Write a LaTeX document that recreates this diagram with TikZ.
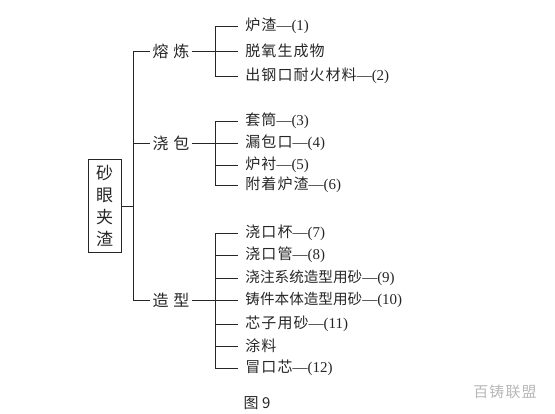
\documentclass[tikz,border=0pt]{standalone}
\usepackage{fontspec}
\setmainfont{Liberation Serif}
\newfontfamily\cjk{Noto Sans CJK SC}
\newfontfamily\cjkw[LetterSpace=7]{Noto Sans CJK SC}
\usetikzlibrary{positioning}

\tikzset{
  leaf/.style={anchor=west, inner xsep=7pt, inner ysep=1pt, font=\fontsize{15}{16}\selectfont},
  group/.style={inner xsep=2pt, inner ysep=1pt, font=\cjk\fontsize{16}{16}\selectfont},
}

\begin{document}
\begin{tikzpicture}[x=1pt, y=-1pt, line width=0.9pt, color=black!85]
    \useasboundingbox (0,0) rectangle (555,413);

    \node[draw, align=center, minimum width=33pt, minimum height=93pt, inner sep=0pt,
          font=\cjk\fontsize{17}{22}\selectfont] (root) at (104.5,206) {砂\\眼\\夹\\渣};

    \coordinate (trunk) at (133,0);
    \coordinate (bus) at (215,0);

    \node[group] (melt) at (171,51) {熔\hskip5pt炼};
    \node[group] (ladle) at (171,143) {浇\hskip5pt包};
    \node[group] (mould) at (171,300) {造\hskip5pt型};

    % 熔炼
    \node[leaf] (m1) at (238,26) {{\cjkw 炉渣}—(1)};
    \node[leaf] (m2) at (238,51) {{\cjkw 脱氧生成物}};
    \node[leaf] (m3) at (238,76) {{\cjkw 出钢口耐火材料}—(2)};

    % 浇包
    \node[leaf] (l1) at (238,121) {{\cjkw 套筒}—(3)};
    \node[leaf] (l2) at (238,143) {{\cjkw 漏包口}—(4)};
    \node[leaf] (l3) at (238,165) {{\cjkw 炉衬}—(5)};
    \node[leaf] (l4) at (238,185) {{\cjkw 附着炉渣}—(6)};

    % 造型
    \node[leaf] (s1) at (238,233) {{\cjkw 浇口杯}—(7)};
    \node[leaf] (s2) at (238,255) {{\cjkw 浇口管}—(8)};
    \node[leaf] (s3) at (238,278) {{\cjk\fontsize{14.6}{16}\selectfont 浇注系统造型用砂}—(9)};
    \node[leaf] (s4) at (238,300) {{\cjk\fontsize{14.6}{16}\selectfont 铸件本体造型用砂}—(10)};
    \node[leaf] (s5) at (238,324) {{\cjkw 芯子用砂}—(11)};
    \node[leaf] (s6) at (238,346) {{\cjkw 涂料}};
    \node[leaf] (s7) at (238,368) {{\cjkw 冒口芯}—(12)};

    \node[font=\cjk\fontsize{15}{16}\selectfont] (fig) at (257,403) {图 9};
    \node[font=\cjkw\fontsize{15}{16}\selectfont, text=black!28] (mark) at (505,392) {百铸联盟};

    \draw (root.east) -- (root.east -| trunk);
    \draw (melt.west -| trunk) -- (mould.west -| trunk);
    \foreach \g in {melt,ladle,mould}
        \draw (\g.west -| trunk) -- (\g.west);

    \draw (melt.east) -- (m2.west);
    \draw (ladle.east) -- (l2.west);
    \draw (mould.east) -- (s4.west);

    \draw (m1.west -| bus) -- (m3.west -| bus);
    \draw (l1.west -| bus) -- (l4.west -| bus);
    \draw (s1.west -| bus) -- (s7.west -| bus);
    \foreach \n in {m1,m3,l1,l3,l4,s1,s2,s3,s5,s6,s7}
        \draw (\n.west -| bus) -- (\n.west);
\end{tikzpicture}
\end{document}
